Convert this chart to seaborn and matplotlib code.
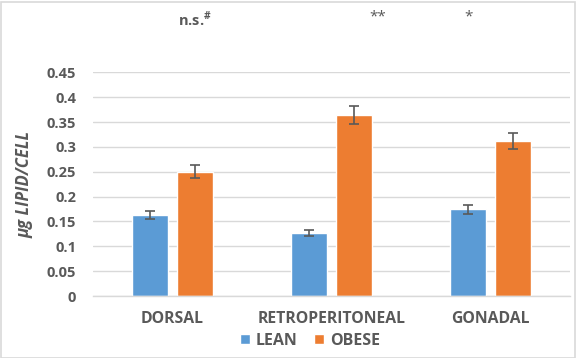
import matplotlib
matplotlib.use("Agg")
import matplotlib.pyplot as plt
import matplotlib.patches as mpatches
import matplotlib.transforms as mtrans
import seaborn as sns
import pandas as pd
import numpy as np

categories = ["DORSAL", "RETROPERITONEAL", "GONADAL"]
groups = ["LEAN", "OBESE"]
lean_vals = [0.163, 0.127, 0.175]
obese_vals = [0.250, 0.364, 0.312]
lean_err = [0.008, 0.006, 0.009]
obese_err = [0.013, 0.018, 0.016]
sig_labels = ["n.s.$^{\\#}$", "**", "*"]
sig_x = [0.14, 1.29, 1.86]  # positions in category units
yticks = [0, 0.05, 0.1, 0.15, 0.2, 0.25, 0.3, 0.35, 0.4, 0.45]
ytick_labels = ["0", "0.05", "0.1", "0.15", "0.2", "0.25", "0.3", "0.35", "0.4", "0.45"]
colors = ["#5B9BD5", "#ED7D31"]

df = pd.DataFrame({
    "region": categories * 2,
    "group": ["LEAN"] * 3 + ["OBESE"] * 3,
    "value": lean_vals + obese_vals,
    "err": lean_err + obese_err,
})

sns.set_theme(style="white")
plt.rcParams["font.family"] = ["Open Sans", "DejaVu Sans"]
plt.rcParams["mathtext.fontset"] = "custom"
plt.rcParams["mathtext.rm"] = "Open Sans:bold"
text_col = "#595959"
grid_col = "#D9D9D9"

fig = plt.figure(figsize=(5.76, 3.58), dpi=100)
ax = fig.add_axes([93 / 576, 1 - 296 / 358, (570 - 93) / 576, (296 - 72.4) / 358])

sns.barplot(data=df, x="region", y="value", hue="group", order=categories,
            hue_order=groups, palette=colors, width=0.566, gap=0.2,
            errorbar=None, ax=ax, saturation=1, legend=True)

# error bars from bar geometry
for cont, errs in zip(ax.containers, [lean_err, obese_err]):
    for patch, e in zip(cont.patches, errs):
        xc = patch.get_x() + patch.get_width() / 2
        ax.errorbar(xc, patch.get_height(), yerr=e, fmt="none", ecolor=text_col,
                    elinewidth=1.2, capsize=3.5, capthick=1.2, zorder=5)

ax.set_xlim(-0.5, 2.5)
ax.set_ylim(0, 0.45)
ax.set_yticks(yticks)
ax.set_yticklabels(ytick_labels)
ax.yaxis.grid(True, color=grid_col, linewidth=1)
ax.set_axisbelow(True)
for s in ["top", "right", "left"]:
    ax.spines[s].set_visible(False)
ax.spines["bottom"].set_color(grid_col)
ax.spines["bottom"].set_linewidth(1)
ax.tick_params(axis="both", length=0, colors=text_col)
for lab in ax.get_yticklabels():
    lab.set_fontsize(10.5)
    lab.set_fontweight("bold")
for lab in ax.get_xticklabels():
    lab.set_fontsize(11.3)
    lab.set_fontweight("bold")
ax.tick_params(axis="x", pad=11)
ax.tick_params(axis="y", pad=12)
ax.set_xlabel("")
ax.set_ylabel("µg LIPID/CELL", fontsize=12, fontweight="bold", style="italic",
              color=text_col, labelpad=10)

# significance labels
trans = mtrans.blended_transform_factory(ax.transData, fig.transFigure)
for sx, sl, fs, fw, yy in zip(sig_x, sig_labels, [10.5, 11, 11], ["bold", "normal", "normal"], [19, 17, 17]):
    ax.text(sx, 1 - yy / 358, sl, transform=trans, ha="center", va="center",
            fontsize=fs, fontweight=fw, color=text_col, clip_on=False)

# legend
handles, labels = ax.get_legend_handles_labels()
ax.get_legend().remove()
leg = fig.legend(handles, labels, loc="center", bbox_to_anchor=(310 / 576, 1 - 341 / 358),
                 ncol=2, frameon=False, handlelength=0.6, handleheight=0.6,
                 handletextpad=0.4, columnspacing=1.0, prop={"size": 11.5, "weight": "bold"})
for t in leg.get_texts():
    t.set_color(text_col)

# chart border
fig.patches.append(mpatches.Rectangle((0.5 / 576, 0.5 / 358), 1 - 2 / 576, 1 - 2 / 358,
                                      transform=fig.transFigure, fill=False,
                                      edgecolor=grid_col, linewidth=1.2))

fig.savefig("out.png", dpi=100)
